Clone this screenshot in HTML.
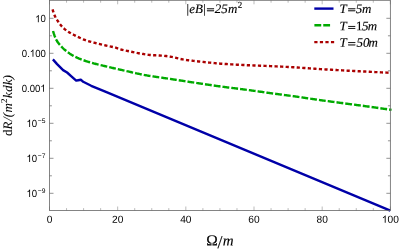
<!DOCTYPE html>
<html><head><meta charset="utf-8"><title>plot</title>
<style>html,body{margin:0;padding:0;background:#fff;}svg{will-change:transform;text-rendering:geometricPrecision}body{width:399px;height:249px;overflow:hidden;position:relative;font-family:"Liberation Sans",sans-serif;}</style>
</head><body>
<svg width="399" height="249" viewBox="0 0 399 249" style="position:absolute;left:0;top:0">
<rect x="0" y="0" width="399" height="249" fill="#fff"/>
<clipPath id="c"><rect x="49.5" y="0.3" width="343.85" height="213.2"/></clipPath>
<g clip-path="url(#c)" fill="none" stroke-linejoin="round">
<path d="M52.90,59.40 L57.10,64.10 L63.10,70.10 L67.10,72.50 L71.10,76.10 L76.20,80.60 L78.20,80.20 L80.80,79.70 L83.20,81.80 L91.20,85.80 L105.30,91.70 L390.35,210.70" stroke="#0000a8" stroke-width="2.4"/>
<path d="M52.90,30.60 L53.75,33.44 L54.59,35.93 L55.44,38.00 L56.28,39.76 L57.13,41.25 L57.97,42.50 L58.82,43.60 L59.67,44.60 L60.51,45.57 L61.36,46.50 L62.20,47.40 L63.05,48.25 L63.89,49.05 L64.74,49.80 L65.59,50.49 L66.43,51.16 L67.28,51.81 L68.12,52.44 L68.97,53.04 L69.81,53.63 L70.66,54.19 L71.51,54.73 L72.35,55.24 L73.20,55.73 L74.04,56.20 L74.89,56.64 L75.73,57.06 L76.58,57.46 L77.43,57.85 L78.27,58.21 L79.12,58.57 L79.96,58.90 L80.81,59.23 L81.66,59.55 L82.50,59.86 L83.35,60.16 L84.19,60.45 L85.04,60.74 L85.88,61.03 L86.73,61.31 L87.58,61.58 L88.42,61.84 L89.27,62.10 L90.11,62.35 L90.96,62.60 L91.80,62.84 L92.65,63.08 L93.50,63.31 L94.34,63.54 L95.19,63.77 L96.03,63.99 L96.88,64.21 L97.72,64.42 L98.57,64.62 L99.42,64.83 L100.26,65.02 L101.11,65.22 L101.95,65.42 L102.80,65.61 L103.64,65.81 L104.49,66.01 L105.34,66.21 L106.18,66.41 L107.03,66.61 L107.87,66.82 L108.72,67.02 L109.56,67.22 L110.41,67.43 L111.26,67.63 L112.10,67.83 L112.95,68.03 L113.79,68.23 L114.64,68.42 L115.48,68.62 L116.33,68.81 L117.18,69.00 L118.02,69.19 L118.87,69.38 L119.71,69.57 L120.56,69.76 L121.40,69.94 L122.25,70.13 L123.10,70.31 L123.94,70.50 L124.79,70.69 L125.63,70.87 L126.48,71.07 L127.33,71.26 L128.17,71.45 L129.02,71.65 L129.86,71.84 L130.71,72.04 L131.55,72.23 L132.40,72.43 L133.25,72.62 L134.09,72.82 L134.94,73.01 L135.78,73.20 L136.63,73.39 L137.47,73.58 L138.32,73.76 L139.17,73.94 L140.01,74.12 L140.86,74.30 L141.70,74.47 L142.55,74.64 L143.39,74.80 L144.24,74.96 L145.09,75.12 L145.93,75.27 L146.78,75.41 L147.62,75.56 L148.47,75.70 L149.31,75.84 L150.16,75.97 L151.01,76.11 L151.85,76.24 L152.70,76.37 L153.54,76.50 L154.39,76.62 L155.23,76.75 L156.08,76.87 L156.93,77.00 L157.77,77.12 L158.62,77.24 L159.46,77.36 L160.31,77.48 L161.15,77.60 L162.00,77.72 L162.85,77.84 L163.69,77.96 L164.54,78.08 L165.38,78.20 L166.23,78.33 L167.07,78.45 L167.92,78.57 L168.77,78.70 L169.61,78.83 L170.46,78.95 L171.30,79.08 L172.15,79.21 L172.99,79.34 L173.84,79.47 L174.69,79.60 L175.53,79.73 L176.38,79.86 L177.22,79.99 L178.07,80.12 L178.92,80.25 L179.76,80.38 L180.61,80.52 L181.45,80.65 L182.30,80.78 L183.14,80.91 L183.99,81.04 L184.84,81.17 L185.68,81.30 L186.53,81.43 L187.37,81.56 L188.22,81.69 L189.06,81.82 L189.91,81.95 L190.76,82.08 L191.60,82.21 L192.45,82.34 L193.29,82.47 L194.14,82.59 L194.98,82.72 L195.83,82.85 L196.68,82.98 L197.52,83.10 L198.37,83.23 L199.21,83.36 L200.06,83.48 L200.90,83.61 L201.75,83.74 L202.60,83.87 L203.44,83.99 L204.29,84.12 L205.13,84.25 L205.98,84.37 L206.82,84.50 L207.67,84.63 L208.52,84.75 L209.36,84.88 L210.21,85.00 L211.05,85.13 L211.90,85.25 L212.74,85.37 L213.59,85.50 L214.44,85.62 L215.28,85.74 L216.13,85.86 L216.97,85.98 L217.82,86.10 L218.66,86.22 L219.51,86.33 L220.36,86.45 L221.20,86.56 L222.05,86.68 L222.89,86.79 L223.74,86.90 L224.59,87.01 L225.43,87.12 L226.28,87.23 L227.12,87.33 L227.97,87.44 L228.81,87.55 L229.66,87.65 L230.51,87.76 L231.35,87.86 L232.20,87.97 L233.04,88.07 L233.89,88.18 L234.73,88.28 L235.58,88.39 L236.43,88.49 L237.27,88.60 L238.12,88.70 L238.96,88.81 L239.81,88.91 L240.65,89.02 L241.50,89.13 L242.35,89.24 L243.19,89.35 L244.04,89.46 L244.88,89.57 L245.73,89.68 L246.57,89.80 L247.42,89.91 L248.27,90.03 L249.11,90.14 L249.96,90.26 L250.80,90.38 L251.65,90.49 L252.49,90.61 L253.34,90.73 L254.19,90.85 L255.03,90.97 L255.88,91.09 L256.72,91.21 L257.57,91.33 L258.41,91.45 L259.26,91.57 L260.11,91.69 L260.95,91.81 L261.80,91.93 L262.64,92.05 L263.49,92.17 L264.33,92.28 L265.18,92.40 L266.03,92.52 L266.87,92.64 L267.72,92.76 L268.56,92.87 L269.41,92.99 L270.26,93.11 L271.10,93.22 L271.95,93.34 L272.79,93.45 L273.64,93.57 L274.48,93.68 L275.33,93.79 L276.18,93.91 L277.02,94.02 L277.87,94.13 L278.71,94.24 L279.56,94.35 L280.40,94.47 L281.25,94.58 L282.10,94.69 L282.94,94.80 L283.79,94.91 L284.63,95.03 L285.48,95.14 L286.32,95.25 L287.17,95.37 L288.02,95.48 L288.86,95.59 L289.71,95.71 L290.55,95.82 L291.40,95.94 L292.24,96.06 L293.09,96.17 L293.94,96.29 L294.78,96.41 L295.63,96.53 L296.47,96.65 L297.32,96.77 L298.16,96.89 L299.01,97.02 L299.86,97.14 L300.70,97.26 L301.55,97.39 L302.39,97.51 L303.24,97.64 L304.08,97.77 L304.93,97.89 L305.78,98.02 L306.62,98.14 L307.47,98.27 L308.31,98.39 L309.16,98.52 L310.00,98.64 L310.85,98.77 L311.70,98.89 L312.54,99.02 L313.39,99.14 L314.23,99.26 L315.08,99.38 L315.92,99.51 L316.77,99.63 L317.62,99.74 L318.46,99.86 L319.31,99.98 L320.15,100.10 L321.00,100.22 L321.85,100.33 L322.69,100.45 L323.54,100.57 L324.38,100.68 L325.23,100.80 L326.07,100.91 L326.92,101.03 L327.77,101.14 L328.61,101.26 L329.46,101.37 L330.30,101.48 L331.15,101.60 L331.99,101.71 L332.84,101.83 L333.69,101.94 L334.53,102.05 L335.38,102.17 L336.22,102.28 L337.07,102.39 L337.91,102.50 L338.76,102.62 L339.61,102.73 L340.45,102.84 L341.30,102.96 L342.14,103.07 L342.99,103.18 L343.83,103.30 L344.68,103.41 L345.53,103.52 L346.37,103.64 L347.22,103.75 L348.06,103.86 L348.91,103.97 L349.75,104.09 L350.60,104.20 L351.45,104.31 L352.29,104.42 L353.14,104.53 L353.98,104.64 L354.83,104.75 L355.67,104.86 L356.52,104.98 L357.37,105.09 L358.21,105.20 L359.06,105.31 L359.90,105.42 L360.75,105.53 L361.59,105.64 L362.44,105.76 L363.29,105.87 L364.13,105.98 L364.98,106.09 L365.82,106.21 L366.67,106.32 L367.52,106.44 L368.36,106.55 L369.21,106.67 L370.05,106.78 L370.90,106.90 L371.74,107.01 L372.59,107.13 L373.44,107.25 L374.28,107.37 L375.13,107.49 L375.97,107.61 L376.82,107.73 L377.66,107.85 L378.51,107.97 L379.36,108.09 L380.20,108.21 L381.05,108.33 L381.89,108.46 L382.74,108.58 L383.58,108.70 L384.43,108.83 L385.28,108.95 L386.12,109.07 L386.97,109.20 L387.81,109.32 L388.66,109.45 L389.50,109.57 L390.35,109.70" stroke="#00aa00" stroke-width="2.4" stroke-linecap="square" stroke-dasharray="4.425 4.425" stroke-dashoffset="-1.6"/>
<path d="M52.60,9.60 L53.45,12.27 L54.29,14.63 L55.14,16.59 L55.99,18.17 L56.83,19.53 L57.68,20.82 L58.53,22.10 L59.37,23.32 L60.22,24.46 L61.06,25.49 L61.91,26.44 L62.76,27.33 L63.60,28.15 L64.45,28.92 L65.30,29.62 L66.14,30.28 L66.99,30.89 L67.84,31.47 L68.68,32.02 L69.53,32.54 L70.38,33.04 L71.22,33.51 L72.07,33.96 L72.92,34.40 L73.76,34.83 L74.61,35.26 L75.46,35.69 L76.30,36.12 L77.15,36.54 L77.99,36.96 L78.84,37.38 L79.69,37.78 L80.53,38.18 L81.38,38.56 L82.23,38.93 L83.07,39.29 L83.92,39.63 L84.77,39.94 L85.61,40.24 L86.46,40.53 L87.31,40.80 L88.15,41.06 L89.00,41.31 L89.85,41.55 L90.69,41.79 L91.54,42.02 L92.39,42.24 L93.23,42.46 L94.08,42.68 L94.92,42.90 L95.77,43.12 L96.62,43.34 L97.46,43.55 L98.31,43.76 L99.16,43.97 L100.00,44.17 L100.85,44.37 L101.70,44.57 L102.54,44.77 L103.39,44.96 L104.24,45.16 L105.08,45.35 L105.93,45.54 L106.78,45.72 L107.62,45.90 L108.47,46.07 L109.31,46.24 L110.16,46.41 L111.01,46.58 L111.85,46.76 L112.70,46.94 L113.55,47.13 L114.39,47.34 L115.24,47.56 L116.09,47.80 L116.93,48.09 L117.78,48.39 L118.63,48.71 L119.47,49.01 L120.32,49.30 L121.17,49.54 L122.01,49.77 L122.86,49.98 L123.71,50.18 L124.55,50.37 L125.40,50.55 L126.24,50.73 L127.09,50.90 L127.94,51.08 L128.78,51.25 L129.63,51.42 L130.48,51.60 L131.32,51.78 L132.17,51.96 L133.02,52.13 L133.86,52.31 L134.71,52.48 L135.56,52.65 L136.40,52.82 L137.25,52.98 L138.10,53.14 L138.94,53.30 L139.79,53.45 L140.64,53.59 L141.48,53.74 L142.33,53.89 L143.17,54.03 L144.02,54.18 L144.87,54.32 L145.71,54.45 L146.56,54.58 L147.41,54.70 L148.25,54.80 L149.10,54.90 L149.95,54.98 L150.79,55.05 L151.64,55.10 L152.49,55.16 L153.33,55.20 L154.18,55.24 L155.03,55.28 L155.87,55.32 L156.72,55.36 L157.56,55.40 L158.41,55.44 L159.26,55.49 L160.10,55.54 L160.95,55.60 L161.80,55.66 L162.64,55.72 L163.49,55.79 L164.34,55.87 L165.18,55.95 L166.03,56.04 L166.88,56.14 L167.72,56.26 L168.57,56.39 L169.42,56.53 L170.26,56.68 L171.11,56.83 L171.96,56.99 L172.80,57.17 L173.65,57.35 L174.49,57.55 L175.34,57.74 L176.19,57.93 L177.03,58.13 L177.88,58.32 L178.73,58.52 L179.57,58.72 L180.42,58.92 L181.27,59.11 L182.11,59.28 L182.96,59.45 L183.81,59.60 L184.65,59.75 L185.50,59.90 L186.35,60.03 L187.19,60.16 L188.04,60.27 L188.89,60.38 L189.73,60.48 L190.58,60.58 L191.42,60.67 L192.27,60.76 L193.12,60.85 L193.96,60.94 L194.81,61.02 L195.66,61.11 L196.50,61.20 L197.35,61.28 L198.20,61.37 L199.04,61.47 L199.89,61.56 L200.74,61.65 L201.58,61.74 L202.43,61.84 L203.28,61.93 L204.12,62.03 L204.97,62.12 L205.81,62.22 L206.66,62.31 L207.51,62.40 L208.35,62.49 L209.20,62.58 L210.05,62.67 L210.89,62.76 L211.74,62.85 L212.59,62.94 L213.43,63.02 L214.28,63.10 L215.13,63.18 L215.97,63.26 L216.82,63.34 L217.67,63.41 L218.51,63.48 L219.36,63.55 L220.21,63.62 L221.05,63.68 L221.90,63.74 L222.74,63.80 L223.59,63.86 L224.44,63.92 L225.28,63.98 L226.13,64.04 L226.98,64.09 L227.82,64.15 L228.67,64.20 L229.52,64.25 L230.36,64.31 L231.21,64.36 L232.06,64.41 L232.90,64.46 L233.75,64.51 L234.60,64.56 L235.44,64.60 L236.29,64.65 L237.14,64.70 L237.98,64.74 L238.83,64.79 L239.67,64.83 L240.52,64.87 L241.37,64.92 L242.21,64.96 L243.06,65.00 L243.91,65.04 L244.75,65.08 L245.60,65.12 L246.45,65.16 L247.29,65.20 L248.14,65.24 L248.99,65.27 L249.83,65.31 L250.68,65.34 L251.53,65.38 L252.37,65.41 L253.22,65.44 L254.06,65.48 L254.91,65.51 L255.76,65.54 L256.60,65.57 L257.45,65.60 L258.30,65.63 L259.14,65.66 L259.99,65.70 L260.84,65.73 L261.68,65.76 L262.53,65.79 L263.38,65.82 L264.22,65.85 L265.07,65.89 L265.92,65.92 L266.76,65.95 L267.61,65.99 L268.46,66.02 L269.30,66.06 L270.15,66.10 L270.99,66.14 L271.84,66.17 L272.69,66.21 L273.53,66.25 L274.38,66.29 L275.23,66.33 L276.07,66.37 L276.92,66.41 L277.77,66.45 L278.61,66.49 L279.46,66.53 L280.31,66.57 L281.15,66.61 L282.00,66.65 L282.85,66.70 L283.69,66.74 L284.54,66.78 L285.39,66.83 L286.23,66.87 L287.08,66.92 L287.92,66.96 L288.77,67.01 L289.62,67.05 L290.46,67.10 L291.31,67.15 L292.16,67.19 L293.00,67.24 L293.85,67.29 L294.70,67.34 L295.54,67.39 L296.39,67.45 L297.24,67.50 L298.08,67.55 L298.93,67.61 L299.78,67.67 L300.62,67.73 L301.47,67.79 L302.31,67.85 L303.16,67.91 L304.01,67.97 L304.85,68.03 L305.70,68.09 L306.55,68.15 L307.39,68.21 L308.24,68.27 L309.09,68.33 L309.93,68.40 L310.78,68.46 L311.63,68.52 L312.47,68.58 L313.32,68.64 L314.17,68.69 L315.01,68.75 L315.86,68.81 L316.71,68.86 L317.55,68.92 L318.40,68.97 L319.24,69.02 L320.09,69.08 L320.94,69.13 L321.78,69.18 L322.63,69.23 L323.48,69.28 L324.32,69.34 L325.17,69.39 L326.02,69.44 L326.86,69.49 L327.71,69.54 L328.56,69.59 L329.40,69.64 L330.25,69.69 L331.10,69.74 L331.94,69.79 L332.79,69.84 L333.64,69.89 L334.48,69.93 L335.33,69.98 L336.17,70.03 L337.02,70.08 L337.87,70.13 L338.71,70.17 L339.56,70.22 L340.41,70.27 L341.25,70.32 L342.10,70.36 L342.95,70.41 L343.79,70.46 L344.64,70.50 L345.49,70.55 L346.33,70.59 L347.18,70.64 L348.03,70.68 L348.87,70.73 L349.72,70.77 L350.56,70.82 L351.41,70.86 L352.26,70.91 L353.10,70.95 L353.95,70.99 L354.80,71.04 L355.64,71.08 L356.49,71.12 L357.34,71.17 L358.18,71.21 L359.03,71.25 L359.88,71.30 L360.72,71.34 L361.57,71.38 L362.42,71.42 L363.26,71.46 L364.11,71.51 L364.96,71.55 L365.80,71.59 L366.65,71.63 L367.49,71.68 L368.34,71.72 L369.19,71.76 L370.03,71.80 L370.88,71.84 L371.73,71.89 L372.57,71.93 L373.42,71.97 L374.27,72.01 L375.11,72.06 L375.96,72.10 L376.81,72.14 L377.65,72.18 L378.50,72.22 L379.35,72.26 L380.19,72.31 L381.04,72.35 L381.89,72.39 L382.73,72.43 L383.58,72.47 L384.42,72.51 L385.27,72.55 L386.12,72.60 L386.96,72.64 L387.81,72.68 L388.66,72.72 L389.50,72.76 L390.35,72.80" stroke="#aa0000" stroke-width="2.4" stroke-linecap="square" stroke-dasharray="0.8 4.75" stroke-dashoffset="-1.0"/>
</g>
<g stroke="#666" stroke-width="0.8" fill="none">
<rect x="49.5" y="0.3" width="340.85" height="210.2"/>
<path d="M49.50,210.5 v-4.0 M49.50,0.3 v4.0" stroke-width="0.45"/>
<path d="M66.54,210.5 v-2.4 M66.54,0.3 v2.4" stroke-width="0.45"/>
<path d="M83.59,210.5 v-2.4 M83.59,0.3 v2.4" stroke-width="0.45"/>
<path d="M100.63,210.5 v-2.4 M100.63,0.3 v2.4" stroke-width="0.45"/>
<path d="M117.67,210.5 v-4.0 M117.67,0.3 v4.0" stroke-width="0.45"/>
<path d="M134.71,210.5 v-2.4 M134.71,0.3 v2.4" stroke-width="0.45"/>
<path d="M151.75,210.5 v-2.4 M151.75,0.3 v2.4" stroke-width="0.45"/>
<path d="M168.80,210.5 v-2.4 M168.80,0.3 v2.4" stroke-width="0.45"/>
<path d="M185.84,210.5 v-4.0 M185.84,0.3 v4.0" stroke-width="0.45"/>
<path d="M202.88,210.5 v-2.4 M202.88,0.3 v2.4" stroke-width="0.45"/>
<path d="M219.93,210.5 v-2.4 M219.93,0.3 v2.4" stroke-width="0.45"/>
<path d="M236.97,210.5 v-2.4 M236.97,0.3 v2.4" stroke-width="0.45"/>
<path d="M254.01,210.5 v-4.0 M254.01,0.3 v4.0" stroke-width="0.45"/>
<path d="M271.05,210.5 v-2.4 M271.05,0.3 v2.4" stroke-width="0.45"/>
<path d="M288.10,210.5 v-2.4 M288.10,0.3 v2.4" stroke-width="0.45"/>
<path d="M305.14,210.5 v-2.4 M305.14,0.3 v2.4" stroke-width="0.45"/>
<path d="M322.18,210.5 v-4.0 M322.18,0.3 v4.0" stroke-width="0.45"/>
<path d="M339.22,210.5 v-2.4 M339.22,0.3 v2.4" stroke-width="0.45"/>
<path d="M356.27,210.5 v-2.4 M356.27,0.3 v2.4" stroke-width="0.45"/>
<path d="M373.31,210.5 v-2.4 M373.31,0.3 v2.4" stroke-width="0.45"/>
<path d="M390.35,210.5 v-4.0 M390.35,0.3 v4.0" stroke-width="0.45"/>
<path d="M49.5,193.30 h4.0 M390.35,193.30 h-4.0" stroke-width="0.7"/>
<path d="M49.5,175.80 h2.4 M390.35,175.80 h-2.4" stroke-width="0.7"/>
<path d="M49.5,158.30 h4.0 M390.35,158.30 h-4.0" stroke-width="0.7"/>
<path d="M49.5,140.80 h2.4 M390.35,140.80 h-2.4" stroke-width="0.7"/>
<path d="M49.5,123.30 h4.0 M390.35,123.30 h-4.0" stroke-width="0.7"/>
<path d="M49.5,105.80 h2.4 M390.35,105.80 h-2.4" stroke-width="0.7"/>
<path d="M49.5,88.30 h4.0 M390.35,88.30 h-4.0" stroke-width="0.7"/>
<path d="M49.5,70.80 h2.4 M390.35,70.80 h-2.4" stroke-width="0.7"/>
<path d="M49.5,53.30 h4.0 M390.35,53.30 h-4.0" stroke-width="0.7"/>
<path d="M49.5,35.80 h2.4 M390.35,35.80 h-2.4" stroke-width="0.7"/>
<path d="M49.5,18.30 h4.0 M390.35,18.30 h-4.0" stroke-width="0.7"/>
</g>
<g fill="none" stroke-width="2.4">
<path d="M315.5,8.6 H332.3" stroke="#0000a8" stroke-linecap="square"/>
<path d="M315.6,25.3 H333.0" stroke="#00aa00" stroke-linecap="square" stroke-dasharray="4.425 4.425"/>
<path d="M315.5,42.1 H333.0" stroke="#aa0000" stroke-linecap="square" stroke-dasharray="0.8 4.75"/>
</g>
<g font-family="Liberation Sans, sans-serif" fill="#000">
<g transform="translate(46.66,222.80) matrix(1 0.0005 0 1 0 0) scale(1.0,1)"><text font-size="10.2" x="0.00">0</text></g>
<g transform="translate(112.00,222.80) matrix(1 0.0005 0 1 0 0) scale(1.0,1)"><text font-size="10.2" x="0.00 5.67">20</text></g>
<g transform="translate(180.17,222.80) matrix(1 0.0005 0 1 0 0) scale(1.0,1)"><text font-size="10.2" x="0.00 5.67">40</text></g>
<g transform="translate(248.34,222.80) matrix(1 0.0005 0 1 0 0) scale(1.0,1)"><text font-size="10.2" x="0.00 5.67">60</text></g>
<g transform="translate(316.51,222.80) matrix(1 0.0005 0 1 0 0) scale(1.0,1)"><text font-size="10.2" x="0.00 5.67">80</text></g>
<g transform="translate(381.84,222.80) matrix(1 0.0005 0 1 0 0) scale(1.0,1)"><path transform="translate(0.00,0) scale(10.2)" d="M0.3726,0 H0.2847 V-0.5601 Q0.2529,-0.5298 0.2014,-0.4995 Q0.1499,-0.4692 0.1089,-0.4541 V-0.5391 Q0.1826,-0.5737 0.2378,-0.6230 Q0.2930,-0.6724 0.3159,-0.7188 H0.3726 Z"/><text font-size="10.2" x="5.67 11.34">00</text></g>
<g transform="translate(35.15,22.30) matrix(1 0.0005 0 1 0 0) scale(0.93,1)"><path transform="translate(0.00,0) scale(10.3)" d="M0.3726,0 H0.2847 V-0.5601 Q0.2529,-0.5298 0.2014,-0.4995 Q0.1499,-0.4692 0.1089,-0.4541 V-0.5391 Q0.1826,-0.5737 0.2378,-0.6230 Q0.2930,-0.6724 0.3159,-0.7188 H0.3726 Z"/><text font-size="10.3" x="5.73">0</text></g>
<g transform="translate(21.83,56.80) matrix(1 0.0005 0 1 0 0) scale(0.93,1)"><path transform="translate(8.59,0) scale(10.3)" d="M0.3726,0 H0.2847 V-0.5601 Q0.2529,-0.5298 0.2014,-0.4995 Q0.1499,-0.4692 0.1089,-0.4541 V-0.5391 Q0.1826,-0.5737 0.2378,-0.6230 Q0.2930,-0.6724 0.3159,-0.7188 H0.3726 Z"/><text font-size="10.3" x="0.00 5.73 14.32 20.04">0.00</text></g>
<g transform="translate(21.73,91.80) matrix(1 0.0005 0 1 0 0) scale(0.93,1)"><path transform="translate(20.04,0) scale(10.3)" d="M0.3726,0 H0.2847 V-0.5601 Q0.2529,-0.5298 0.2014,-0.4995 Q0.1499,-0.4692 0.1089,-0.4541 V-0.5391 Q0.1826,-0.5737 0.2378,-0.6230 Q0.2930,-0.6724 0.3159,-0.7188 H0.3726 Z"/><text font-size="10.3" x="0.00 5.73 8.59 14.32">0.00</text></g>
<g transform="translate(26.50,126.90) matrix(1 0.0005 0 1 0 0) scale(0.93,1)"><path transform="translate(0.00,0) scale(10.3)" d="M0.3726,0 H0.2847 V-0.5601 Q0.2529,-0.5298 0.2014,-0.4995 Q0.1499,-0.4692 0.1089,-0.4541 V-0.5391 Q0.1826,-0.5737 0.2378,-0.6230 Q0.2930,-0.6724 0.3159,-0.7188 H0.3726 Z"/><text font-size="10.3" x="5.73">0</text><text font-size="6.7" x="11.35" y="-3.8" transform="scale(1.0753,1)">−5</text></g>
<g transform="translate(26.50,161.90) matrix(1 0.0005 0 1 0 0) scale(0.93,1)"><path transform="translate(0.00,0) scale(10.3)" d="M0.3726,0 H0.2847 V-0.5601 Q0.2529,-0.5298 0.2014,-0.4995 Q0.1499,-0.4692 0.1089,-0.4541 V-0.5391 Q0.1826,-0.5737 0.2378,-0.6230 Q0.2930,-0.6724 0.3159,-0.7188 H0.3726 Z"/><text font-size="10.3" x="5.73">0</text><text font-size="6.7" x="11.35" y="-3.8" transform="scale(1.0753,1)">−7</text></g>
<g transform="translate(26.50,196.90) matrix(1 0.0005 0 1 0 0) scale(0.93,1)"><path transform="translate(0.00,0) scale(10.3)" d="M0.3726,0 H0.2847 V-0.5601 Q0.2529,-0.5298 0.2014,-0.4995 Q0.1499,-0.4692 0.1089,-0.4541 V-0.5391 Q0.1826,-0.5737 0.2378,-0.6230 Q0.2930,-0.6724 0.3159,-0.7188 H0.3726 Z"/><text font-size="10.3" x="5.73">0</text><text font-size="6.7" x="11.35" y="-3.8" transform="scale(1.0753,1)">−9</text></g>
</g>
<g font-family="Liberation Serif, serif" fill="#000" stroke="#000" stroke-width="0.12">
<text transform="translate(206.30,245.60) matrix(1 0.0005 0 1 0 0)" font-size="15"><tspan font-size="15.5">Ω</tspan><tspan x="11.10" dy="2.50" font-size="18">/</tspan><tspan x="16.50" dy="-2.50" font-style="italic">m</tspan></text>
<text transform="translate(185.70,12.90) matrix(1 0.0005 0 1 0 0)" font-size="13"><tspan font-style="italic">|eB</tspan><tspan x="16.80" font-style="italic">|</tspan><tspan x="29.10" font-style="italic">25</tspan><tspan x="42.40" font-style="italic">m</tspan><tspan x="52.10" dy="-5.20" font-size="9">2</tspan></text>
<rect x="207.00" y="8.30" width="7.00" height="0.9" fill="#111"/><rect x="207.00" y="10.30" width="7.00" height="0.9" fill="#111"/>
<text transform="translate(339.50,12.90) matrix(1 0.0005 0 1 0 0)" font-size="13"><tspan font-style="italic">T</tspan><tspan x="16.30" font-style="italic">5</tspan><tspan x="22.60" font-style="italic">m</tspan></text>
<rect x="348.20" y="8.30" width="7.10" height="0.9" fill="#111"/><rect x="348.20" y="10.30" width="7.10" height="0.9" fill="#111"/>
<text transform="translate(339.50,30.25) matrix(1 0.0005 0 1 0 0)" font-size="13"><tspan font-style="italic">T</tspan><tspan x="16.50">1</tspan><tspan x="22.60" font-style="italic">5</tspan><tspan x="28.20" font-style="italic">m</tspan></text>
<rect x="348.20" y="26.00" width="7.10" height="0.9" fill="#111"/><rect x="348.20" y="28.00" width="7.10" height="0.9" fill="#111"/>
<text transform="translate(339.50,46.70) matrix(1 0.0005 0 1 0 0)" font-size="13"><tspan font-style="italic">T</tspan><tspan x="16.90" font-style="italic">5</tspan><tspan x="23.40" font-style="italic">0</tspan><tspan x="29.00" font-style="italic">m</tspan></text>
<rect x="348.20" y="42.10" width="7.10" height="0.9" fill="#111"/><rect x="348.20" y="44.50" width="7.10" height="0.9" fill="#111"/>
<text transform="translate(12.1,136.1) rotate(-90)" font-size="13" stroke-width="0.04"><tspan x="0.00">d</tspan><tspan x="6.50" font-style="italic">R</tspan><tspan x="15.10" font-style="italic">/</tspan><tspan x="18.80" font-style="italic">(</tspan><tspan x="23.70" font-style="italic">m</tspan><tspan x="33.10" dy="-5.20" font-size="9">2</tspan><tspan x="38.10" dy="5.20" font-style="italic">k</tspan><tspan x="44.30" font-style="italic">d</tspan><tspan x="51.00" font-style="italic">k</tspan><tspan x="56.60" font-style="italic">)</tspan></text>
</g>
</svg>
</body></html>
